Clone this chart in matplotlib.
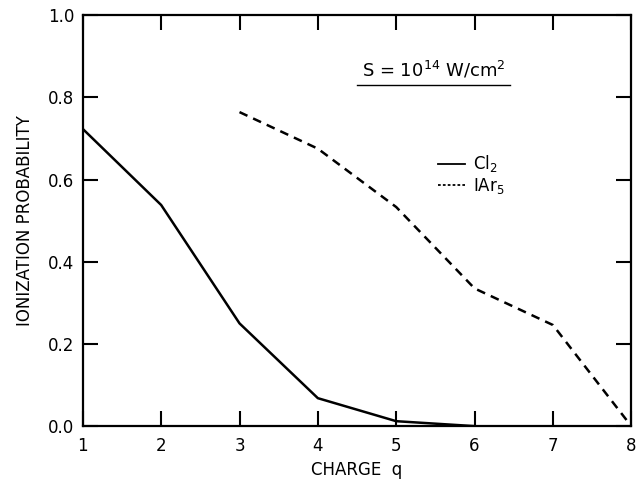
import matplotlib
matplotlib.use("Agg")
import matplotlib.pyplot as plt
from matplotlib.lines import Line2D

# Data
charge_cl2 = [1, 2, 3, 4, 5, 6]
prob_cl2 = [0.723, 0.538, 0.25, 0.068, 0.012, 0.0]

charge_iar5 = [3, 4, 5, 6, 7, 8]
prob_iar5 = [0.764, 0.675, 0.533, 0.335, 0.246, 0.0]

x_ticks = [1, 2, 3, 4, 5, 6, 7, 8]
y_ticks = [0.0, 0.2, 0.4, 0.6, 0.8, 1.0]
y_tick_labels = ["0.0", "0.2", "0.4", "0.6", "0.8", "1.0"]

plt.rcParams["font.family"] = ["DejaVu Sans"]

fig = plt.figure(figsize=(6.37, 4.87), dpi=100)
ax = fig.add_axes([0.130, 0.125, 0.861, 0.844])

ax.plot(charge_cl2, prob_cl2, color="black", lw=1.8)
ax.plot(charge_iar5, prob_iar5, color="black", lw=1.8, linestyle=(0, (3.5, 2.5)))

ax.set_xlim(1, 8)
ax.set_ylim(0, 1.0)
ax.set_xticks(x_ticks)
ax.set_yticks(y_ticks)
ax.set_yticklabels(y_tick_labels)
ax.tick_params(direction="in", length=11, width=1.5, top=True, right=True,
               labelsize=12, pad=6)
ax.tick_params(axis="x", pad=8)
for s in ax.spines.values():
    s.set_linewidth(1.6)

ax.set_xlabel("CHARGE  q", fontsize=12, labelpad=4)
ax.set_ylabel("IONIZATION PROBABILITY", fontsize=12, labelpad=10)

# Intensity annotation, underlined
ax.text(0.639, 0.866, "S = 10$^{14}$ W/cm$^2$", transform=ax.transAxes,
        ha="center", va="center", fontsize=13)
ax.plot([0.50, 0.779], [0.83, 0.83], transform=ax.transAxes,
        color="black", lw=1.0, clip_on=False)

# Legend (fine dashes for the IAr5 key, as drawn in the original)
h_cl2 = Line2D([], [], color="black", lw=1.3, label="Cl$_2$")
h_iar5 = Line2D([], [], color="black", lw=1.3, linestyle=(0, (1.5, 1.2)),
                label="IAr$_5$")
ax.legend(handles=[h_cl2, h_iar5], loc="upper left",
          bbox_to_anchor=(0.62, 0.70), frameon=False, fontsize=12,
          handlelength=1.6, handletextpad=0.5, labelspacing=0.1)

fig.savefig("out.png", dpi=100)
